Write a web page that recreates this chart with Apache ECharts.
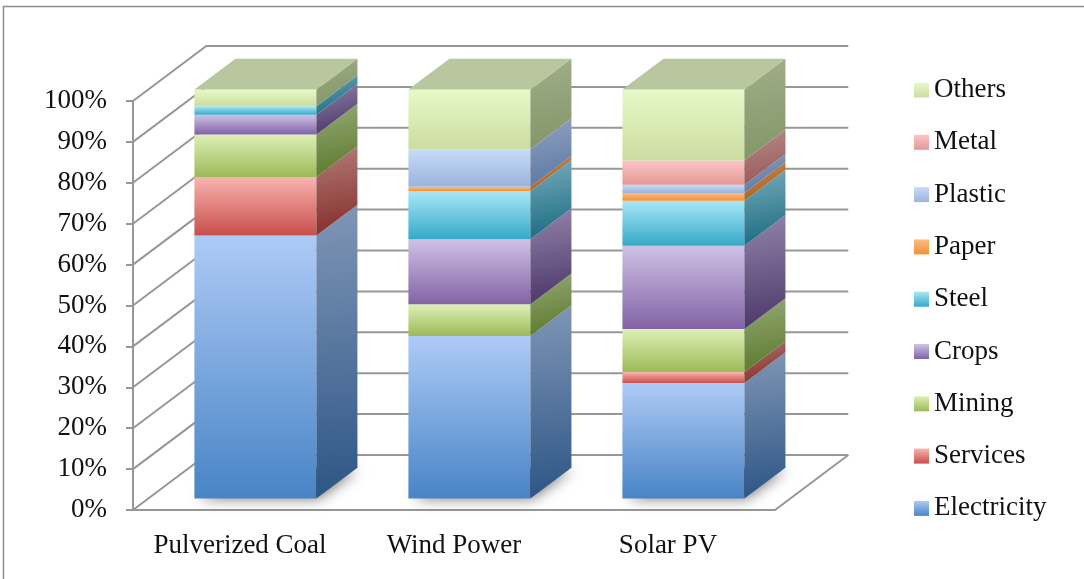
<!DOCTYPE html>
<html>
<head>
<meta charset="utf-8">
<script src="https://cdn.jsdelivr.net/npm/echarts@6/dist/echarts.min.js"></script>
<style>
  html, body { margin: 0; padding: 0; background: #fff; }
  #chart { width: 1084px; height: 579px; }
</style>
</head>
<body>
<div id="chart"></div>
<script>
// Share of impacts by sector for three generation technologies (percent of total)
const categories = ['Pulverized Coal', 'Wind Power', 'Solar PV'];
const sectors = ['Electricity', 'Services', 'Mining', 'Crops', 'Steel', 'Paper', 'Plastic', 'Metal', 'Others'];
const electricity = [64.3, 39.7, 28.2];
const services    = [14.3, 0.0, 2.7];
const mining      = [10.4, 7.8, 10.5];
const crops       = [4.8, 15.9, 20.4];
const steel       = [2.1, 11.8, 11.0];
const paper       = [0.0, 1.0, 1.9];
const plastic     = [0.0, 9.2, 2.0];
const metal       = [0.0, 0.0, 5.9];
const others      = [4.1, 14.6, 17.4];
const yTicks = [0, 10, 20, 30, 40, 50, 60, 70, 80, 90, 100];

const seriesValues = [electricity, services, mining, crops, steel, paper, plastic, metal, others];

// face colours: [front top, front bottom, side top, side bottom]
const palette = {
  Electricity: ['#aecbf6', '#4884c6', '#8096b6', '#2d5686'],
  Services:    ['#f9b4b0', '#c84f4a', '#b27c79', '#862e29'],
  Mining:      ['#def0b6', '#9bba57', '#95a878', '#5d7b2c'],
  Crops:       ['#cfc2e6', '#8263a5', '#9283a9', '#4c386a'],
  Steel:       ['#a8e8f8', '#35a9c7', '#77aabb', '#1c6d82'],
  Paper:       ['#fdbc85', '#f29036', '#c78d5a', '#ad611c'],
  Plastic:     ['#c8dbf8', '#9bb4dd', '#90a2c0', '#5e79a5'],
  Metal:       ['#fbc6c5', '#e39796', '#b78b8a', '#995a5a'],
  Others:      ['#e8f9c9', '#cbdd9f', '#a0ae87', '#849669']
};
const topFace = '#b8c79e';

const FONT = '"Liberation Serif", "Times New Roman", serif';
const GRID_COLOR = '#979797';
// depth of the 3-D box in pixels, and where the bars sit inside it
const DEPTH_X = 73.3, DEPTH_Y = -55;
const D0 = 0.21, D1 = 0.77;
const BAR_RATIO = 0.57;

function vGrad(c1, c2) {
  return new echarts.graphic.LinearGradient(0, 0, 0, 1, [
    { offset: 0, color: c1 }, { offset: 1, color: c2 }
  ]);
}
function dGrad(c1, c2) {
  return new echarts.graphic.LinearGradient(0, 0, 0.35, 1, [
    { offset: 0, color: c1 }, { offset: 1, color: c2 }
  ]);
}

// stacked extents per segment
const stacks = [];
const running = categories.map(() => 0);
seriesValues.forEach((vals) => {
  stacks.push(vals.map((v, i) => {
    const lo = running[i];
    running[i] += v;
    return [i, lo, running[i]];
  }));
});

function wallItem(params, api) {
  const cs = params.coordSys;
  const v = api.value(1);
  const y = api.coord([0, v])[1];
  const x0 = cs.x, x1 = cs.x + cs.width;
  const children = [{
    type: 'polyline',
    shape: { points: [[x0, y], [x0 + DEPTH_X, y + DEPTH_Y], [x1 + DEPTH_X, y + DEPTH_Y]] },
    style: { stroke: GRID_COLOR, lineWidth: 2, fill: null }
  }];
  if (v === 0) {
    children.push({
      type: 'polyline',
      shape: { points: [[x0, y], [x1, y], [x1 + DEPTH_X, y + DEPTH_Y]] },
      style: { stroke: GRID_COLOR, lineWidth: 2, fill: null }
    });
  }
  return { type: 'group', children };
}

function barGeom(api, i, lo, hi) {
  const c = api.coord([i, lo]);
  const t = api.coord([i, hi]);
  const band = api.size([1, 0])[0];
  const half = band * BAR_RATIO / 2;
  const fx = D0 * DEPTH_X, fy = D0 * DEPTH_Y;
  const sx = (D1 - D0) * DEPTH_X, sy = (D1 - D0) * DEPTH_Y;
  return {
    xl: c[0] - half + fx, xr: c[0] + half + fx,
    yb: c[1] + fy, yt: t[1] + fy, sx, sy
  };
}

// soft contact shadow on the floor under each bar
function shadowItem(params, api) {
  const i = api.value(0);
  const g = barGeom(api, i, 0, 0);
  return {
    type: 'polygon',
    shape: { points: [[g.xl + 3, g.yb - 2], [g.xr, g.yb - 2], [g.xr + g.sx - 2, g.yb + g.sy], [g.xl + g.sx, g.yb + g.sy]] },
    style: { fill: 'rgba(60,60,60,0.9)', shadowBlur: 14, shadowColor: 'rgba(0,0,0,0.6)', shadowOffsetX: 2, shadowOffsetY: 2 }
  };
}

function makeBarRender(name, isTop) {
  const col = palette[name];
  return function (params, api) {
    const i = api.value(0), lo = api.value(1), hi = api.value(2);
    if (hi - lo <= 0) return null;
    const g = barGeom(api, i, lo, hi);
    const children = [
      {
        type: 'rect',
        shape: { x: g.xl, y: g.yt, width: g.xr - g.xl, height: g.yb - g.yt },
        style: { fill: vGrad(col[0], col[1]) }
      },
      {
        type: 'polygon',
        shape: { points: [[g.xr, g.yb], [g.xr + g.sx, g.yb + g.sy], [g.xr + g.sx, g.yt + g.sy], [g.xr, g.yt]] },
        style: { fill: dGrad(col[2], col[3]) }
      }
    ];
    if (isTop) {
      children.push({
        type: 'polygon',
        shape: { points: [[g.xl, g.yt], [g.xr, g.yt], [g.xr + g.sx, g.yt + g.sy], [g.xl + g.sx, g.yt + g.sy]] },
        style: { fill: topFace }
      });
    }
    return { type: 'group', children };
  };
}

const series = [
  {
    type: 'custom', name: 'walls', z: 1, silent: true,
    coordinateSystem: 'cartesian2d',
    data: yTicks.map(v => [0, v]),
    encode: { x: 0, y: 1 },
    renderItem: wallItem
  },
  {
    type: 'custom', name: 'floorShadow', z: 2, silent: true,
    coordinateSystem: 'cartesian2d',
    data: categories.map((c, i) => [i, 0]),
    encode: { x: 0, y: 1 },
    renderItem: shadowItem
  }
];
sectors.forEach((name, k) => {
  series.push({
    type: 'custom', name, z: 3, silent: true,
    coordinateSystem: 'cartesian2d',
    data: stacks[k],
    encode: { x: 0, y: [1, 2] },
    itemStyle: { color: vGrad(palette[name][0], palette[name][1]) },
    renderItem: makeBarRender(name, k === sectors.length - 1)
  });
});

const chart = echarts.init(document.getElementById('chart'), null, { renderer: 'canvas' });
chart.setOption({
  animation: false,
  backgroundColor: '#fff',
  graphic: [{
    type: 'rect', silent: true, z: 0,
    shape: { x: 3.5, y: 6.5, width: 1200, height: 700 },
    style: { fill: null, stroke: '#8e8e8e', lineWidth: 1.5 }
  }],
  grid: { left: 133, top: 101, width: 642, height: 409 },
  xAxis: {
    type: 'category',
    data: categories,
    axisLine: { show: false },
    axisTick: { show: false },
    splitLine: { show: false },
    axisLabel: { interval: 0, hideOverlap: false, margin: 22, fontSize: 27, fontFamily: FONT, color: '#111' }
  },
  yAxis: {
    type: 'value', min: 0, max: 100, interval: 10,
    axisLine: { show: true, lineStyle: { color: GRID_COLOR, width: 2 } },
    axisTick: { show: true, length: 7, lineStyle: { color: GRID_COLOR, width: 2 } },
    splitLine: { show: false },
    axisLabel: { margin: 26, fontSize: 27, fontFamily: FONT, color: '#111', formatter: '{value}%' }
  },
  legend: {
    data: sectors.slice().reverse(),
    orient: 'vertical',
    left: 914, top: 75,
    padding: 0,
    icon: 'rect',
    itemWidth: 15, itemHeight: 15, itemGap: 22.3,
    selectedMode: false,
    textStyle: { fontSize: 27, fontFamily: FONT, color: '#111', lineHeight: 30 }
  },
  series
});
</script>
</body>
</html>
